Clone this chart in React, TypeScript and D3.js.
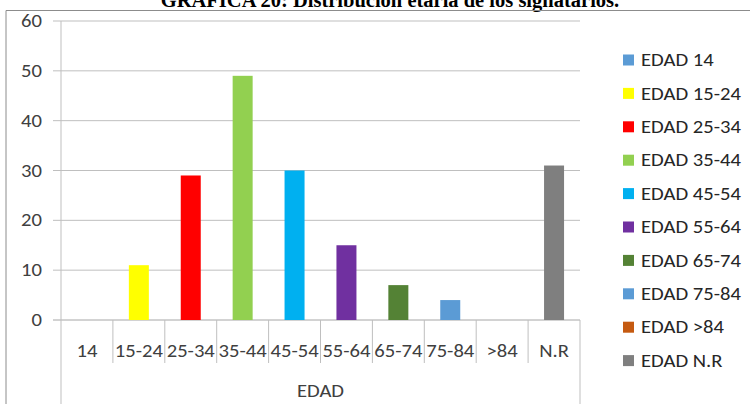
import React from 'react';
import * as d3 from 'd3';

// chart data
const categories = ['14', '15-24', '25-34', '35-44', '45-54', '55-64', '65-74', '75-84', '>84', 'N.R'];
const values = [0, 11, 29, 49, 30, 15, 7, 4, 0, 31];
const colors = ['#5b9bd5', '#ffff00', '#ff0000', '#92d050', '#00b0f0', '#7030a0', '#548235', '#5b9bd5', '#c55a11', '#7f7f7f'];
const yTicks = [0, 10, 20, 30, 40, 50, 60];
const axisTitle = 'EDAD';
const chartTitle = 'GRÁFICA 20: Distribución etaria de los signatarios.';

const width = 750;
const height = 404;
const plot = { left: 61, right: 580, top: 21, bottom: 320 };
const font = "Carlito, Calibri, Lato, sans-serif";
const fs = 17.5;
const stretch = 1.18; // source image text is a bit wider than plain Calibri

// text drawn with a horizontal stretch
const WideText: React.FC<{ x: number; y: number; anchor?: string; fill?: string; children: React.ReactNode }> =
  ({ x, y, anchor = 'start', fill = '#404040', children }) => (
    <text transform={`translate(${x},${y}) scale(${stretch},1)`} dy="0.35em"
      textAnchor={anchor} fontSize={fs} fill={fill}>{children}</text>
  );

const App: React.FC = () => {
  const x = d3.scaleBand<string>()
    .domain(categories)
    .range([plot.left, plot.right])
    .paddingInner(0)
    .paddingOuter(0);

  const y = d3.scaleLinear()
    .domain([0, 60])
    .range([plot.bottom, plot.top]);

  const barW = 20;
  const legendX = 623;
  const legendY0 = 60;
  const legendStep = 33.4;

  return (
    <svg
      width={width}
      height={height}
      style={{ position: 'absolute', left: 0, top: 0, background: '#fff' }}
      fontFamily={font}
    >
      {/* title, clipped at the top like the source */}
      <text x={390} y={6.5} textAnchor="middle" fontFamily="'Liberation Serif', 'Times New Roman', serif"
        fontWeight="bold" fontSize={20.5} fill="#000">{chartTitle}</text>

      {/* outer chart border */}
      <path d={`M6,${height} V10.5 H${width}`} fill="none" stroke="#8c8c8c" strokeWidth={1} />

      {/* gridlines + y ticks */}
      {yTicks.map(t => (
        <g key={t}>
          <line x1={plot.left - 8} x2={plot.right} y1={y(t)} y2={y(t)}
            stroke={t === 0 ? '#a6a6a6' : '#bfbfbf'} strokeWidth={1} />
          <WideText x={42} y={y(t)} anchor="end">{t}</WideText>
        </g>
      ))}

      {/* y axis line */}
      <line x1={plot.left} x2={plot.left} y1={plot.top} y2={plot.bottom} stroke="#bfbfbf" />

      {/* bars */}
      {categories.map((c, i) => (
        values[i] > 0 ? (
          <rect key={c}
            x={(x(c) ?? 0) + x.bandwidth() / 2 - barW / 2}
            y={y(values[i])}
            width={barW}
            height={y(0) - y(values[i])}
            fill={colors[i]} />
        ) : null
      ))}

      {/* category dividers */}
      {categories.slice(1).map(c => (
        <line key={c} x1={x(c)} x2={x(c)} y1={plot.bottom} y2={363} stroke="#bfbfbf" />
      ))}
      <line x1={plot.left} x2={plot.left} y1={plot.bottom} y2={405} stroke="#bfbfbf" />
      <line x1={plot.right} x2={plot.right} y1={plot.bottom} y2={405} stroke="#bfbfbf" />

      {/* category labels */}
      {categories.map(c => (
        <WideText key={c} x={(x(c) ?? 0) + x.bandwidth() / 2} y={351} anchor="middle">{c}</WideText>
      ))}
      <WideText x={(plot.left + plot.right) / 2} y={391} anchor="middle">{axisTitle}</WideText>

      {/* legend */}
      {categories.map((c, i) => (
        <g key={c} transform={`translate(${legendX},${legendY0 + i * legendStep})`}>
          <rect x={0} y={-5.5} width={11} height={11} fill={colors[i]} />
          <WideText x={18} y={0} fill="#262626">{`${axisTitle} ${c}`}</WideText>
        </g>
      ))}
    </svg>
  );
};

export default App;
